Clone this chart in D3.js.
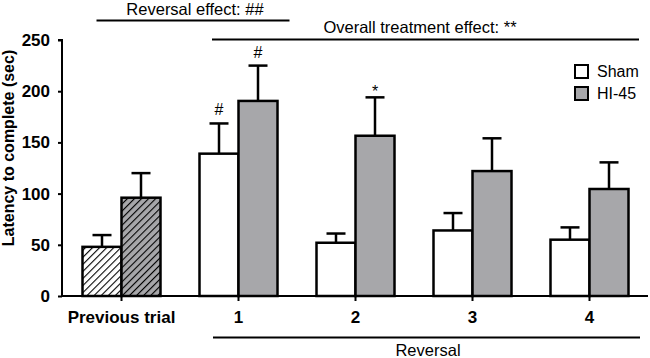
<!DOCTYPE html>
<html>
<head>
<meta charset="utf-8">
<script src="https://cdn.jsdelivr.net/npm/d3@7"></script>
<style>
  body { margin: 0; background: #fff; }
  text { font-family: "Liberation Sans", Arial, sans-serif; }
</style>
</head>
<body>
<div id="chart"></div>
<script>
// dados
const categorias = ["Previous trial", "1", "2", "3", "4"];
const grupos = ["Sham", "HI-45"];
const sham = [48, 139, 52, 64, 55];
const shamErro = [11.5, 29.5, 9, 17, 12];
const hi45 = [96, 190.5, 156.5, 122, 104.5];
const hi45Erro = [24, 34.5, 37.5, 32, 26];
const yTicks = [0, 50, 100, 150, 200, 250];
const marcadores = [
  { cat: "1", grupo: "Sham", texto: "#" },
  { cat: "1", grupo: "HI-45", texto: "#" },
  { cat: "2", grupo: "HI-45", texto: "*" }
];

const width = 650, height = 358;
const cinza = "#a7a7aa";

const svg = d3.select("#chart").append("svg")
    .attr("width", width)
    .attr("height", height);

// padrões de hachura
const defs = svg.append("defs");
[["hatchSham", "#fff"], ["hatchHI", cinza]].forEach(([id, fundo]) => {
  const p = defs.append("pattern")
      .attr("id", id)
      .attr("patternUnits", "userSpaceOnUse")
      .attr("width", 5).attr("height", 5)
      .attr("patternTransform", "rotate(45)");
  p.append("rect").attr("width", 5).attr("height", 5).attr("fill", fundo);
  p.append("line").attr("x1", 0).attr("y1", 0).attr("x2", 0).attr("y2", 5)
      .attr("stroke", "#000").attr("stroke-width", 2.2);
});

// escalas
const x = d3.scaleBand().domain(categorias).range([63, 648]);
const x1 = d3.scaleBand().domain(grupos).range([0, x.bandwidth()]).paddingOuter(0.5);
const y = d3.scaleLinear().domain([0, 250]).range([296, 40]);

const dados = [];
categorias.forEach((c, i) => {
  dados.push({ cat: c, grupo: "Sham", v: sham[i], e: shamErro[i], i });
  dados.push({ cat: c, grupo: "HI-45", v: hi45[i], e: hi45Erro[i], i });
});

function preenchimento(d) {
  if (d.i === 0) return d.grupo === "Sham" ? "url(#hatchSham)" : "url(#hatchHI)";
  return d.grupo === "Sham" ? "#fff" : cinza;
}

// barras de erro (só para cima)
const capW = 19;
const eb = svg.append("g").attr("stroke", "#000").attr("stroke-width", 2.5);
dados.forEach(d => {
  const cx = x(d.cat) + x1(d.grupo) + x1.bandwidth() / 2;
  eb.append("line").attr("x1", cx).attr("x2", cx).attr("y1", y(d.v)).attr("y2", y(d.v + d.e));
  eb.append("line").attr("x1", cx - capW / 2).attr("x2", cx + capW / 2)
      .attr("y1", y(d.v + d.e)).attr("y2", y(d.v + d.e));
});

// barras
svg.append("g").selectAll("rect")
    .data(dados)
    .enter()
    .append("rect")
    .attr("x", d => x(d.cat) + x1(d.grupo))
    .attr("y", d => y(d.v))
    .attr("width", x1.bandwidth())
    .attr("height", d => y(0) - y(d.v))
    .attr("fill", preenchimento)
    .attr("stroke", "#000")
    .attr("stroke-width", 2.5);

// marcadores de significância
svg.append("g").selectAll("text")
    .data(marcadores)
    .enter()
    .append("text")
    .attr("x", m => x(m.cat) + x1(m.grupo) + x1.bandwidth() / 2)
    .attr("y", m => {
      const d = dados.find(d => d.cat === m.cat && d.grupo === m.grupo);
      return y(d.v + d.e) - (m.texto === "*" ? 0 : 8);
    })
    .attr("text-anchor", "middle")
    .style("font-size", "16px")
    .text(m => m.texto);

// eixo Y
const gy = svg.append("g")
    .attr("transform", "translate(62,0)")
    .call(d3.axisLeft(y).tickValues(yTicks).tickSize(4).tickPadding(8));
gy.selectAll("path, line").attr("stroke", "#000").attr("stroke-width", 2);
gy.select("path").attr("d", `M-4,${y(250)}H0V${y(0)}`);
gy.selectAll("text").style("font-size", "17px").style("font-weight", "bold")
    .style("font-family", "Liberation Sans, Arial, sans-serif").attr("fill", "#000");

// eixo X
const gx = svg.append("g")
    .attr("transform", `translate(0,${y(0)})`)
    .call(d3.axisBottom(x).tickSize(5).tickPadding(10).tickSizeOuter(0));
gx.selectAll("path, line").attr("stroke", "#000").attr("stroke-width", 2);
gx.select("path").attr("d", "M62,0H648");
gx.selectAll("text").style("font-size", "17px").style("font-weight", "bold")
    .style("font-family", "Liberation Sans, Arial, sans-serif").attr("fill", "#000");

// título do eixo Y
svg.append("text")
    .attr("transform", "translate(14,148) rotate(-90)")
    .attr("text-anchor", "middle")
    .style("font-size", "16px")
    .style("font-weight", "bold")
    .text("Latency to complete (sec)");

// legenda
const leg = svg.append("g");
grupos.forEach((g, i) => {
  leg.append("rect")
      .attr("x", 575).attr("y", 65 + i * 22)
      .attr("width", 13).attr("height", 13)
      .attr("fill", g === "Sham" ? "#fff" : cinza)
      .attr("stroke", "#000").attr("stroke-width", 2);
  leg.append("text")
      .attr("x", 597).attr("y", 77 + i * 22)
      .style("font-size", "16px")
      .text(g);
});

// chaves de efeitos
const step = x.step();
const linhas = [
  { x1: x("Previous trial") + step / 2 - 25, x2: x("1") + step / 2 + 51, y: 20.5,
    texto: "Reversal effect: ##", tx: 195, ty: 15 },
  { x1: x("1") + 32, x2: x("4") + step - 9, y: 39.5,
    texto: "Overall treatment effect: **", tx: 420, ty: 33 },
  { x1: x("1") + 33, x2: x("4") + step - 8, y: 337.5,
    texto: "Reversal", tx: 428, ty: 356 }
];
linhas.forEach(l => {
  svg.append("line")
      .attr("x1", l.x1).attr("x2", l.x2).attr("y1", l.y).attr("y2", l.y)
      .attr("stroke", "#000").attr("stroke-width", 2);
  svg.append("text")
      .attr("x", l.tx).attr("y", l.ty)
      .attr("text-anchor", "middle")
      .style("font-size", "16.5px")
      .text(l.texto);
});
</script>
</body>
</html>
